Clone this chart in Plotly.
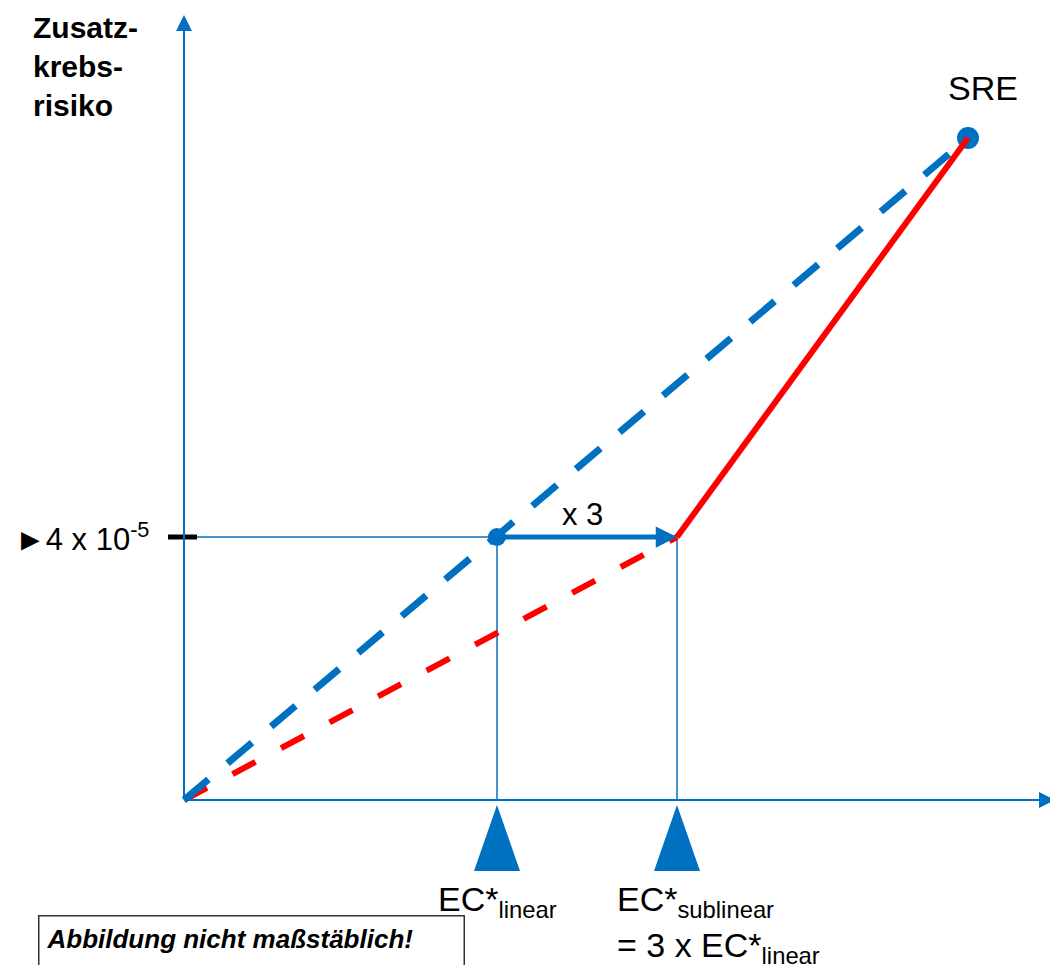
import plotly.graph_objects as go

# ---- data (arbitrary exposure / risk units, figure "not to scale") ----
origin = [0.0, 0.0]
ec_linear = 3.13          # EC*linear
ec_sublinear = 4.93       # EC*sublinear = 3 x EC*linear (schematic)
risk_level = 2.63         # 4 x 10^-5
sre_point = [7.84, 6.62]  # SRE
x_axis_end = 8.71
y_axis_end = 7.85

BLUE = "#0070C0"
RED = "#FF0000"

fig = go.Figure()

# thin guide lines
fig.add_trace(go.Scatter(x=[0, ec_sublinear], y=[risk_level, risk_level], mode="lines",
                         line=dict(color=BLUE, width=1.5), hoverinfo="skip"))
for ec in [ec_linear, ec_sublinear]:
    fig.add_trace(go.Scatter(x=[ec, ec], y=[0, risk_level], mode="lines",
                             line=dict(color=BLUE, width=1.5), hoverinfo="skip"))

# black tick at risk level
fig.add_trace(go.Scatter(x=[-0.16, 0.13], y=[risk_level, risk_level], mode="lines",
                         line=dict(color="black", width=5), hoverinfo="skip"))

# red dashed (sublinear, low-dose part)
fig.add_trace(go.Scatter(x=[origin[0], ec_sublinear], y=[origin[1], risk_level], mode="lines",
                         line=dict(color=RED, width=6, dash="26px,29px"), hoverinfo="skip"))
# blue dashed (linear)
fig.add_trace(go.Scatter(x=[origin[0], sre_point[0]], y=[origin[1], sre_point[1]], mode="lines",
                         line=dict(color=BLUE, width=7, dash="32px,25px"), hoverinfo="skip"))
# blue dots
fig.add_trace(go.Scatter(x=[ec_linear], y=[risk_level], mode="markers",
                         marker=dict(color=BLUE, size=18), hoverinfo="skip"))
fig.add_trace(go.Scatter(x=[sre_point[0]], y=[sre_point[1]], mode="markers",
                         marker=dict(color=BLUE, size=22), hoverinfo="skip"))
# red solid (sublinear, above EC*sublinear)
fig.add_trace(go.Scatter(x=[ec_sublinear, sre_point[0]], y=[risk_level, sre_point[1]], mode="lines",
                         line=dict(color=RED, width=6), hoverinfo="skip"))

# triangles under the x axis
tri_half, tri_top, tri_bottom = 0.23, -0.05, -0.71
for ec in [ec_linear, ec_sublinear]:
    fig.add_trace(go.Scatter(x=[ec - tri_half, ec + tri_half, ec, ec - tri_half],
                             y=[tri_bottom, tri_bottom, tri_top, tri_bottom],
                             mode="lines", fill="toself", fillcolor=BLUE,
                             line=dict(color=BLUE, width=0), hoverinfo="skip"))

# axes with arrows
fig.add_annotation(x=x_axis_end, y=0, ax=0, ay=0, axref="x", ayref="y", xref="x", yref="y",
                   showarrow=True, arrowhead=2, arrowsize=1.6, arrowwidth=2, arrowcolor=BLUE, text="")
fig.add_annotation(x=0, y=y_axis_end, ax=0, ay=0, axref="x", ayref="y", xref="x", yref="y",
                   showarrow=True, arrowhead=2, arrowsize=1.6, arrowwidth=2, arrowcolor=BLUE, text="")
# x3 arrow
fig.add_annotation(x=ec_sublinear, y=risk_level, ax=ec_linear, ay=risk_level, axref="x", ayref="y",
                   showarrow=True, arrowhead=2, arrowsize=0.85, arrowwidth=5, arrowcolor=BLUE, text="")

FONT = "Liberation Sans, Arial, sans-serif"

def txt(x, y, text, size, xanchor="center", yanchor="middle", align="center", **kw):
    fig.add_annotation(x=x, y=y, xref="x", yref="y", text=text, showarrow=False,
                       xanchor=xanchor, yanchor=yanchor, align=align,
                       font=dict(family=FONT, size=size, color="black"), **kw)

txt(-1.53, 7.91, "<b>Zusatz-<br>krebs-<br>risiko</b>", 30, xanchor="left", yanchor="top", align="left")
txt(-0.33, risk_level, "►4 x 10<sup>-5</sup>", 31, xanchor="right")
txt(7.99, 7.12, "SRE", 34)
txt((ec_linear + ec_sublinear) / 2 - 0.05, risk_level + 0.23, "x 3", 31)
txt(8.87, -0.36, "<b>Exposition  [Konzentration]</b>", 21)
txt(ec_linear, -0.78, "EC*<sub>linear</sub>", 34, yanchor="top")
txt(ec_sublinear - 0.62, -0.78, "EC*<sub>sublinear</sub>", 34, xanchor="left", yanchor="top")
txt(ec_sublinear - 0.62, -1.24, "= 3 x EC*<sub>linear</sub>", 34, xanchor="left", yanchor="top")
fig.add_annotation(x=-1.46, y=-1.15, xref="x", yref="y", xanchor="left", yanchor="top",
                   text="<b><i>Abbildung nicht maßstäblich!</i></b>", showarrow=False,
                   font=dict(family=FONT, size=26, color="black"),
                   bordercolor="#333333", borderwidth=1.5, borderpad=7, width=410, height=48,
                   valign="top", align="left")

# page has an 8px body margin: compensate so the drawing sits where the reference has it
fig.update_layout(
    width=1050, height=957, margin=dict(l=0, r=0, t=0, b=0),
    paper_bgcolor="white", plot_bgcolor="white", showlegend=False,
    xaxis=dict(range=[-1.76, 8.74], visible=False, fixedrange=True),
    yaxis=dict(range=[-1.65, 7.92], visible=False, fixedrange=True),
)
fig.write_html("out.html")
